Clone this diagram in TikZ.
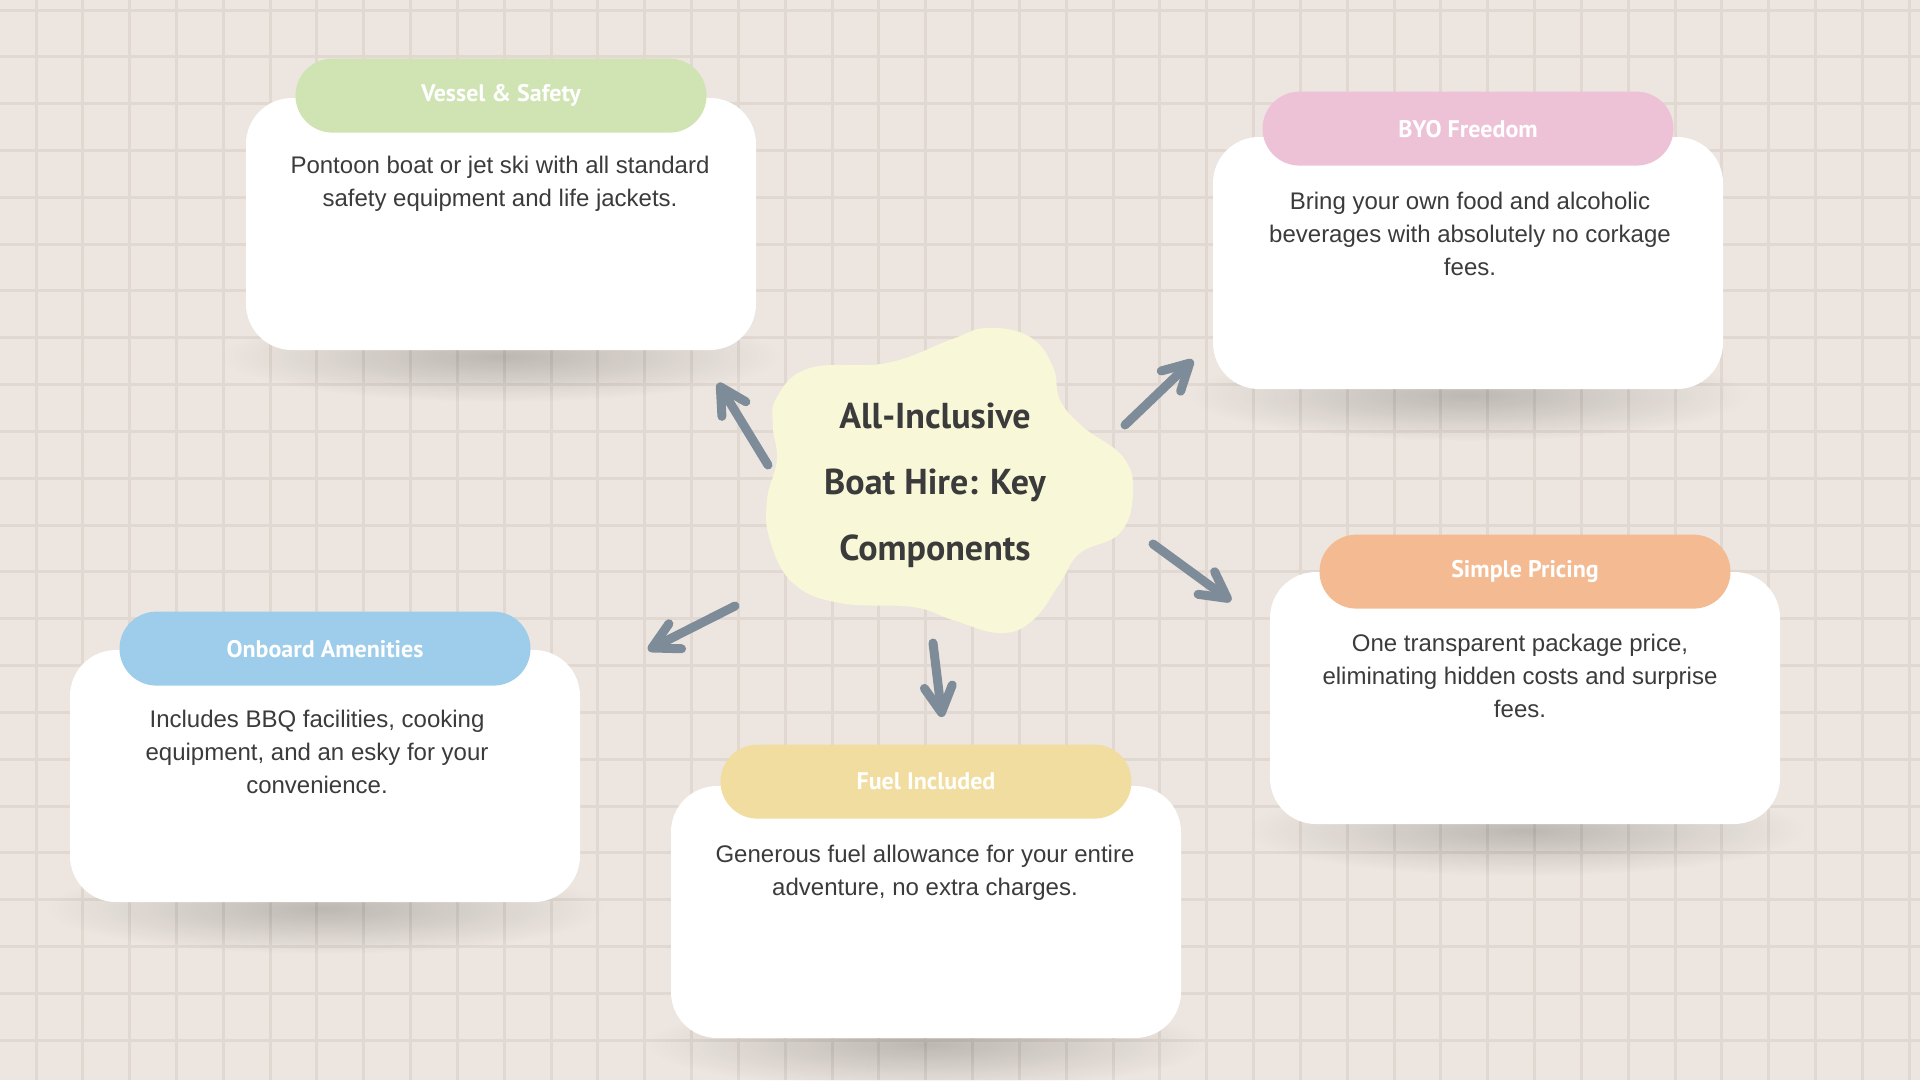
\documentclass[tikz,border=0pt]{standalone}
\usepackage{fontspec}
\setmainfont{Liberation Sans}
\newfontfamily\headfont{PT Sans}
\usetikzlibrary{positioning,arrows.meta,fadings}

\definecolor{paper}{HTML}{EDE6E0}
\definecolor{gridline}{HTML}{E0D8D1}
\definecolor{vesselgreen}{HTML}{CFE3B3}
\definecolor{byopink}{HTML}{EEC2D6}
\definecolor{onboardblue}{HTML}{9DCDEA}
\definecolor{fuelyellow}{HTML}{F1DD9F}
\definecolor{priceorange}{HTML}{F4BB93}
\definecolor{blobfill}{HTML}{F8F8D9}
\definecolor{ink}{HTML}{3B3B3B}
\definecolor{arrowgray}{HTML}{7E8C99}

\pgfdeclarelayer{backdrop}
\pgfdeclarelayer{shade}
\pgfsetlayers{backdrop,shade,main}

\tikzfading[name=softshadow, inner color=transparent!0, outer color=transparent!100]

\tikzset{
  card/.style={fill=white, rounded corners=46pt, minimum width=510pt, minimum height=252pt, inner sep=0pt},
  cardshadow/.style={fill=black, fill opacity=0.2, path fading=softshadow},
  pill/.style={rounded corners=37pt, minimum width=411pt, minimum height=74pt, inner sep=0pt,
    text=white, font=\headfont\bfseries\fontsize{24}{28}\selectfont},
  body/.style={align=center, text=ink, inner sep=0pt, font=\fontsize{24}{33}\selectfont},
  hubtext/.style={align=center, text=ink, inner sep=0pt, font=\headfont\bfseries\fontsize{36}{66}\selectfont},
  pointer/.style={draw=arrowgray, line width=9pt, line cap=round, line join=round,
    -{Straight Barb[round, length=26pt, width=28pt]}}
}

\begin{document}
\begin{tikzpicture}[x=1pt, y=-1pt]
    \useasboundingbox (0,0) rectangle (1920,1080);
    \begin{pgfonlayer}{backdrop}
        \fill[paper] (0,0) rectangle (1920,1080);
        \clip (0,0) rectangle (1920,1080);
        \foreach \i in {0,...,40} \draw[gridline, line width=3pt] (36+\i*46.83,0) -- (36+\i*46.83,1080);
        \foreach \j in {0,...,22} \draw[gridline, line width=3pt] (0,10+\j*46.83) -- (1920,10+\j*46.83);
    \end{pgfonlayer}

    \node[card] (vesselcard) at (501,224) {};
    \node[pill, fill=vesselgreen, above=-35pt of vesselcard] (vesselpill) {Vessel \& Safety};
    \node[body, anchor=base] (vesseltext) at (500,206) {Pontoon boat or jet ski with all standard\\safety equipment and life jackets.};

    \node[card] (byocard) at (1468,263) {};
    \node[pill, fill=byopink, above=-29pt of byocard] (byopill) {BYO Freedom};
    \node[body, anchor=base] (byotext) at (1470,275) {Bring your own food and alcoholic\\beverages with absolutely no corkage\\fees.};

    \node[card] (pricecard) at (1525,698) {};
    \node[pill, fill=priceorange, above=-37pt of pricecard] (pricepill) {Simple Pricing};
    \node[body, anchor=base] (pricetext) at (1520,717) {One transparent package price,\\eliminating hidden costs and surprise\\fees.};

    \node[card] (fuelcard) at (926,912) {};
    \node[pill, fill=fuelyellow, above=-33pt of fuelcard] (fuelpill) {Fuel Included};
    \node[body, anchor=base] (fueltext) at (925,895) {Generous fuel allowance for your entire\\adventure, no extra charges.};

    \node[card] (onboardcard) at (325,776) {};
    \node[pill, fill=onboardblue, above=-36pt of onboardcard] (onboardpill) {Onboard Amenities};
    \node[body, anchor=base] (onboardtext) at (317,793) {Includes BBQ facilities, cooking\\equipment, and an esky for your\\convenience.};

    \begin{pgfonlayer}{shade}
        \foreach \c in {vesselcard,byocard,pricecard,fuelcard,onboardcard}
            \fill[cardshadow] ([yshift=-6pt]\c.south) ellipse [x radius=280pt, y radius=46pt];
    \end{pgfonlayer}

    \fill[blobfill] plot[smooth cycle, tension=0.7] coordinates {(777,397) (810,368) (887,363) (950,340) (987,328) (1030,337) (1053,367) (1060,400) (1083,427) (1123,457) (1133,493) (1120,533) (1080,553) (1060,583) (1033,620) (1000,633) (953,620) (913,607) (840,603) (793,583) (770,540) (767,500) (777,460) (773,427)};
    \node[hubtext, anchor=base] (hub) at (935,560) {All-Inclusive\\Boat Hire: Key\\Components};

    \coordinate (tovessel0) at (768,465);
    \coordinate (tovessel1) at (718,383);
    \coordinate (tobyo0) at (1125,425);
    \coordinate (tobyo1) at (1193,360);
    \coordinate (toprice0) at (1153,544);
    \coordinate (toprice1) at (1231,601);
    \coordinate (tofuel0) at (933,643);
    \coordinate (tofuel1) at (942,717);
    \coordinate (toonboard0) at (735,606);
    \coordinate (toonboard1) at (648,650);

    \draw[pointer] (tovessel0) -- (tovessel1);
    \draw[pointer] (tobyo0) -- (tobyo1);
    \draw[pointer] (toprice0) -- (toprice1);
    \draw[pointer] (tofuel0) -- (tofuel1);
    \draw[pointer] (toonboard0) -- (toonboard1);
\end{tikzpicture}
\end{document}
